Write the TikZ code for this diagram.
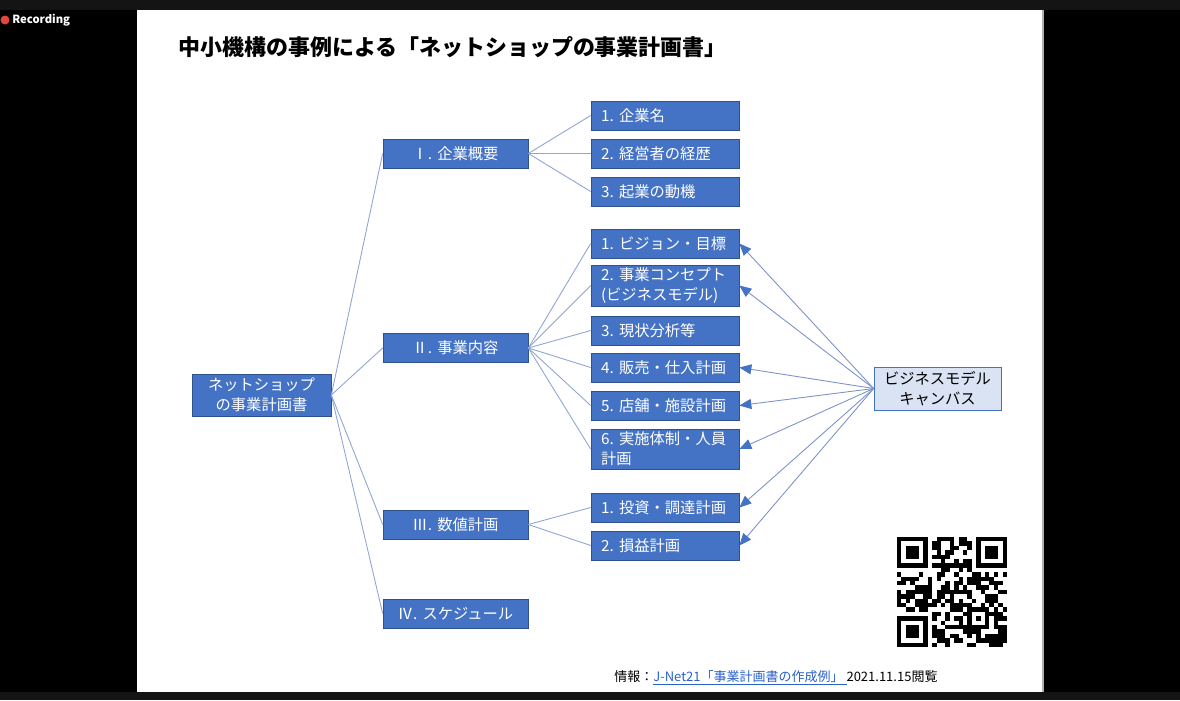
\documentclass[tikz,border=0pt]{standalone}
\usepackage{fontspec}
\setmainfont{Noto Sans CJK JP}
\usepackage{xcolor}
\usetikzlibrary{arrows.meta,positioning}

\definecolor{boxblue}{HTML}{4472C4}
\definecolor{boxedge}{HTML}{2F528F}
\definecolor{bmcfill}{HTML}{DAE3F3}
\definecolor{treeline}{HTML}{8EA5D6}
\definecolor{refline}{HTML}{7D92C9}
\definecolor{linkblue}{HTML}{2A62C9}
\definecolor{bargray}{HTML}{141414}
\definecolor{recred}{HTML}{E2473B}

\newcommand{\boxfont}{\fontsize{8.7}{11.3}\selectfont}
\newcommand{\nsp}{\hspace{0.35em}}

\begin{document}
\begin{tikzpicture}[x=0.02cm, y=-0.02cm,
    root/.style={draw=boxedge, fill=boxblue, text=white, minimum width=2.78cm, minimum height=0.84cm, inner sep=0pt, align=center, font=\boxfont},
    sec/.style={draw=boxedge, fill=boxblue, text=white, minimum width=2.9cm, minimum height=0.58cm, inner sep=0pt, font=\boxfont},
    item/.style={draw=boxedge, fill=boxblue, text=white, text width=2.56cm, inner xsep=0.2cm, inner ysep=0pt, minimum height=0.58cm, align=left, font=\boxfont},
    bmc/.style={draw=boxblue, fill=bmcfill, text=black, minimum width=2.54cm, minimum height=0.86cm, inner sep=0pt, align=center, font=\boxfont},
    link/.style={draw=treeline, line width=0.5pt},
    ref/.style={draw=refline, line width=0.5pt, -{Triangle[length=2.4mm, width=2mm, color=boxblue]}}
]
\useasboundingbox (0,0) rectangle (1180,700);

% screen and slide
\fill[black] (0,0) rectangle (1180,700);
\fill[bargray] (0,0) rectangle (1180,10);
\fill[bargray] (0,692) rectangle (1180,700);
\fill[white] (137,10) rectangle (1043,692);
\draw[gray!60, line width=0.6pt] (1043,10) -- (1043,692);
\fill[recred] (5,20) circle[radius=0.09cm];
\node[anchor=west, text=white, font=\fontsize{6.4}{7}\selectfont\bfseries, inner sep=0pt] (rec) at (12,20) {Recording};

\node[anchor=west, inner sep=0pt, font=\fontsize{12.5}{15}\selectfont\bfseries] (title) at (178,47)
  {中小機構の事例による「ネットショップの事業計画書」};

% tree
\node[root] (R) at (261.5,395) {ネットショップ\\の事業計画書};

\node[sec] (S1) at (455.5,153.5) {Ⅰ.\nsp 企業概要};
\node[sec] (S2) at (455.5,348)   {Ⅱ.\nsp 事業内容};
\node[sec] (S3) at (455.5,524.5) {Ⅲ.\nsp 数値計画};
\node[sec] (S4) at (455.5,613.5) {Ⅳ.\nsp スケジュール};

\node[item] (A1) at (665,115.5) {1.\nsp 企業名};
\node[item] (A2) at (665,153.5) {2.\nsp 経営者の経歴};
\node[item] (A3) at (665,191.5) {3.\nsp 起業の動機};

\node[item] (B1) at (665,243.5) {1.\nsp ビジョン・目標};
\node[item, minimum height=0.82cm] (B2) at (665,285.5) {2.\nsp 事業コンセプト\\(ビジネスモデル)};
\node[item] (B3) at (665,330.5) {3.\nsp 現状分析等};
\node[item] (B4) at (665,367.5) {4.\nsp 販売・仕入計画};
\node[item] (B5) at (665,405.5) {5.\nsp 店舗・施設計画};
\node[item, minimum height=0.8cm] (B6) at (665,449) {6.\nsp 実施体制・人員\\計画};

\node[item] (C1) at (665,507.5) {1.\nsp 投資・調達計画};
\node[item] (C2) at (665,545.5) {2.\nsp 損益計画};

\node[bmc] (BMC) at (937.5,388.5) {ビジネスモデル\\キャンバス};

\foreach \s in {S1,S2,S3,S4} \draw[link] (R.east) -- (\s.west);
\foreach \a in {A1,A2,A3} \draw[link] (S1.east) -- (\a.west);
\foreach \b in {B1,B2,B3,B4,B5,B6} \draw[link] (S2.east) -- (\b.west);
\foreach \c in {C1,C2} \draw[link] (S3.east) -- (\c.west);

\foreach \t in {B1,B2,B4,B5,B6,C1,C2} \draw[ref] (BMC.west) -- (\t.east);

% QR code
\def\qrm{4.4}
\pgfmathsetseed{2021}
\foreach \i in {0,...,24}{
  \foreach \j in {0,...,24}{
    \pgfmathtruncatemacro{\qrskip}{((\i<8)&&(\j<8)) || ((\i>16)&&(\j<8)) || ((\i<8)&&(\j>16)) || ((\i>15)&&(\i<21)&&(\j>15)&&(\j<21))}
    \pgfmathtruncatemacro{\qrbit}{rnd<0.56}
    \ifnum\qrskip=0 \ifnum\qrbit=1
      \fill[black] (897+\qrm*\i,537+\qrm*\j) rectangle ++(\qrm,\qrm);
    \fi\fi
  }
}
\foreach \qi/\qj in {0/0,18/0,0/18}{
  \fill[black] (897+\qrm*\qi,537+\qrm*\qj) rectangle ++(7*\qrm,7*\qrm);
  \fill[white] (897+\qrm*\qi+\qrm,537+\qrm*\qj+\qrm) rectangle ++(5*\qrm,5*\qrm);
  \fill[black] (897+\qrm*\qi+2*\qrm,537+\qrm*\qj+2*\qrm) rectangle ++(3*\qrm,3*\qrm);
}
\fill[black] (897+\qrm*16,537+\qrm*16) rectangle ++(5*\qrm,5*\qrm);
\fill[white] (897+\qrm*17,537+\qrm*17) rectangle ++(3*\qrm,3*\qrm);
\fill[black] (897+\qrm*18,537+\qrm*18) rectangle ++(\qrm,\qrm);

% source
\node[anchor=west, inner sep=0pt, font=\fontsize{7.4}{9}\selectfont] (src) at (614,678)
  {情報：\textcolor{linkblue}{\underline{J-Net21「事業計画書の作成例」\ }}2021.11.15閲覧};
\end{tikzpicture}
\end{document}
